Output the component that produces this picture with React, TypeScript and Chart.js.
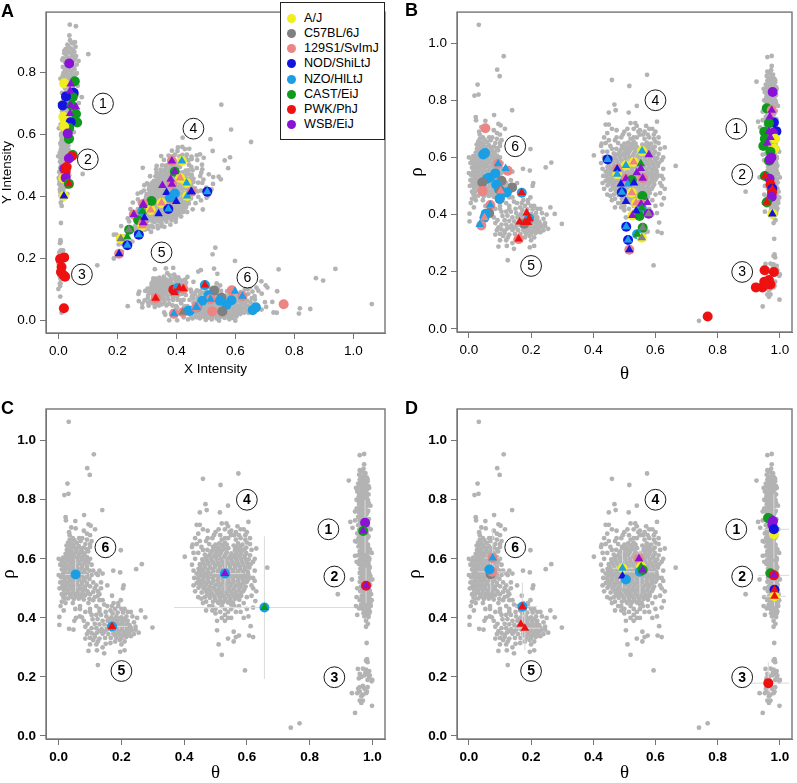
import Chart from "chart.js/auto";
import { useEffect, useRef } from "react";

// Strains, as in the legend of panel A.
const strainNames = ["A/J", "C57BL/6J", "129S1/SvImJ", "NOD/ShiLtJ", "NZO/HlLtJ", "CAST/EiJ", "PWK/PhJ", "WSB/EiJ"];
const strainColors = ["#f0ee1e", "#808080", "#ee8585", "#1414e0", "#1a9fe6", "#0f9a1e", "#ee1111", "#8a12d6"];
const [AJ, B6, S129, NOD, NZO, CAST, PWK, WSB] = [0, 1, 2, 3, 4, 5, 6, 7];
const NONE = -1;

const cloudOne = [
  0.96,0.951, 0.974,0.955, 0.974,0.92, 0.972,0.905, 0.965,0.895, 0.978,0.89, 0.958,0.885, 0.968,0.878, 0.982,0.876,
  0.96,0.868, 0.972,0.866, 0.985,0.862, 0.955,0.855, 0.966,0.853, 0.978,0.85, 0.988,0.846, 0.96,0.84, 0.972,0.838,
  0.983,0.834, 0.952,0.828, 0.965,0.824, 0.977,0.822, 0.988,0.818, 0.957,0.812, 0.97,0.81, 0.982,0.806, 0.953,0.798,
  0.965,0.796, 0.977,0.794, 0.988,0.79, 0.958,0.784, 0.97,0.78, 0.982,0.778, 0.952,0.77, 0.965,0.768, 0.977,0.766,
  0.987,0.762, 0.958,0.756, 0.97,0.752, 0.981,0.75, 0.955,0.742, 0.966,0.74, 0.978,0.736, 0.989,0.734, 0.96,0.728,
  0.972,0.724, 0.984,0.722, 0.955,0.714, 0.966,0.71, 0.978,0.708, 0.988,0.704, 0.958,0.698, 0.97,0.696, 0.982,0.692,
  0.952,0.686, 0.964,0.682, 0.976,0.68, 0.988,0.676, 0.956,0.67, 0.968,0.666, 0.98,0.664, 0.95,0.658, 0.962,0.654,
  0.974,0.65, 0.986,0.648, 0.956,0.642, 0.968,0.638, 0.98,0.636, 0.992,0.632, 0.96,0.626, 0.972,0.622, 0.984,0.62,
  0.955,0.612, 0.966,0.608, 0.978,0.606, 0.99,0.602, 0.96,0.596, 0.972,0.592, 0.984,0.59, 0.958,0.582, 0.97,0.578,
  0.982,0.576, 0.992,0.572, 0.962,0.566, 0.974,0.562, 0.986,0.56, 0.96,0.552, 0.972,0.548, 0.984,0.546, 0.994,0.542,
  0.962,0.536, 0.974,0.532, 0.986,0.53, 0.96,0.522, 0.972,0.518, 0.984,0.516, 0.993,0.512, 0.964,0.506, 0.976,0.502,
  0.988,0.5, 0.962,0.49, 0.974,0.486, 0.986,0.484, 0.996,0.48, 0.966,0.474, 0.978,0.47, 0.99,0.468, 0.96,0.46,
  0.972,0.456, 0.984,0.454, 0.994,0.45, 0.964,0.444, 0.976,0.44, 0.988,0.438, 0.958,0.432, 0.97,0.43, 0.982,0.426,
  0.992,0.422, 0.972,0.416, 0.984,0.412, 0.975,0.405, 0.988,0.403, 0.98,0.39, 0.986,0.38, 0.98,0.37,
];
const cloudOneFill = [
  0.968,0.897, 0.975,0.884, 0.963,0.873, 0.978,0.871, 0.966,0.86, 0.98,0.858, 0.958,0.847, 0.972,0.845, 0.983,0.842,
  0.966,0.832, 0.979,0.83, 0.959,0.819, 0.971,0.817, 0.983,0.814, 0.964,0.804, 0.976,0.802, 0.986,0.799, 0.96,0.791,
  0.971,0.788, 0.983,0.785, 0.964,0.776, 0.976,0.773, 0.958,0.763, 0.971,0.76, 0.984,0.757, 0.964,0.748, 0.975,0.745,
  0.96,0.735, 0.972,0.732, 0.985,0.73, 0.961,0.72, 0.972,0.717, 0.984,0.714, 0.964,0.705, 0.975,0.702, 0.958,0.69,
  0.97,0.688, 0.983,0.685, 0.96,0.676, 0.972,0.673, 0.984,0.67, 0.956,0.662, 0.968,0.659, 0.98,0.656, 0.962,0.647,
  0.974,0.644, 0.986,0.641, 0.966,0.631, 0.978,0.629, 0.988,0.625, 0.961,0.617, 0.972,0.615, 0.984,0.612, 0.966,0.602,
  0.978,0.599, 0.99,0.596, 0.964,0.588, 0.976,0.585, 0.988,0.583, 0.966,0.572, 0.978,0.569, 0.99,0.566, 0.966,0.558,
  0.978,0.555, 0.99,0.552, 0.968,0.542, 0.98,0.539, 0.966,0.528, 0.978,0.525, 0.99,0.522, 0.97,0.512, 0.982,0.509,
  0.968,0.498, 0.98,0.494, 0.992,0.492, 0.972,0.48, 0.984,0.477, 0.966,0.466, 0.978,0.463, 0.99,0.46, 0.97,0.45,
  0.982,0.447, 0.964,0.436, 0.976,0.434, 0.988,0.43, 0.978,0.422, 0.99,0.415,
];
const cloudOneEdge = [
  0.95,0.8, 0.948,0.84, 0.99,0.84, 0.994,0.78, 0.995,0.7, 0.998,0.62, 0.945,0.66, 0.945,0.61, 0.95,0.59, 1.0,0.53,
  0.952,0.5, 0.95,0.47, 0.948,0.44, 0.952,0.41, 0.998,0.46, 0.995,0.44, 0.985,0.87, 0.96,0.9,
];
const cloudThree = [
  0.954,0.227, 0.97,0.228, 0.98,0.225, 0.99,0.22, 0.99,0.2, 1.0,0.19, 0.998,0.185, 0.985,0.19, 0.985,0.21, 0.975,0.205,
  0.96,0.21, 0.957,0.195, 0.965,0.2, 0.98,0.255, 0.983,0.26, 0.985,0.25, 0.982,0.315, 0.935,0.145, 0.952,0.145,
  0.96,0.165, 0.97,0.17, 0.975,0.16, 0.96,0.15, 0.98,0.145, 0.965,0.135, 0.97,0.12, 0.96,0.12, 0.965,0.112, 0.983,0.15,
  0.999,0.102, 0.945,0.078, 0.97,0.14, 0.955,0.16, 0.985,0.165, 0.992,0.205, 0.978,0.215,
];
const cloudFour = [
  0.53,0.655, 0.512,0.652, 0.5,0.648, 0.492,0.64, 0.508,0.638, 0.525,0.641, 0.541,0.636, 0.558,0.645, 0.572,0.652,
  0.586,0.648, 0.598,0.638, 0.578,0.636, 0.562,0.63, 0.474,0.63, 0.488,0.626, 0.504,0.624, 0.52,0.627, 0.536,0.622,
  0.551,0.618, 0.567,0.621, 0.583,0.624, 0.598,0.62, 0.61,0.612, 0.466,0.614, 0.48,0.611, 0.496,0.609, 0.512,0.612,
  0.528,0.607, 0.544,0.604, 0.56,0.606, 0.576,0.608, 0.592,0.605, 0.606,0.598, 0.458,0.598, 0.472,0.596, 0.488,0.594,
  0.504,0.597, 0.52,0.592, 0.536,0.59, 0.552,0.592, 0.568,0.593, 0.584,0.59, 0.6,0.588, 0.612,0.582, 0.45,0.582,
  0.465,0.58, 0.481,0.578, 0.497,0.581, 0.513,0.576, 0.529,0.575, 0.545,0.577, 0.561,0.578, 0.577,0.574, 0.593,0.572,
  0.608,0.57, 0.446,0.566, 0.459,0.563, 0.475,0.562, 0.491,0.565, 0.507,0.56, 0.523,0.56, 0.539,0.562, 0.555,0.562,
  0.571,0.558, 0.587,0.557, 0.603,0.555, 0.44,0.55, 0.455,0.547, 0.469,0.546, 0.485,0.549, 0.501,0.544, 0.517,0.545,
  0.533,0.546, 0.549,0.546, 0.565,0.542, 0.581,0.542, 0.597,0.54, 0.61,0.536, 0.443,0.534, 0.459,0.531, 0.475,0.53,
  0.491,0.533, 0.507,0.528, 0.523,0.53, 0.539,0.53, 0.555,0.53, 0.571,0.526, 0.587,0.527, 0.6,0.522, 0.44,0.518,
  0.454,0.515, 0.47,0.514, 0.486,0.517, 0.502,0.512, 0.518,0.514, 0.534,0.514, 0.55,0.514, 0.566,0.51, 0.582,0.511,
  0.596,0.506, 0.446,0.502, 0.462,0.5, 0.478,0.498, 0.494,0.501, 0.51,0.497, 0.526,0.498, 0.542,0.498, 0.558,0.498,
  0.574,0.495, 0.588,0.49, 0.456,0.486, 0.472,0.484, 0.488,0.483, 0.504,0.485, 0.52,0.482, 0.536,0.482, 0.552,0.482,
  0.568,0.479, 0.582,0.475, 0.466,0.47, 0.482,0.468, 0.498,0.467, 0.514,0.469, 0.53,0.466, 0.546,0.466, 0.562,0.464,
  0.576,0.461, 0.492,0.455, 0.508,0.453, 0.524,0.452, 0.54,0.452, 0.556,0.45, 0.49,0.44, 0.52,0.44, 0.51,0.45,
  0.53,0.43, 0.55,0.43, 0.5,0.43, 0.54,0.42, 0.56,0.44, 0.575,0.44, 0.53,0.41, 0.52,0.4, 0.505,0.39, 0.47,0.425,
  0.54,0.71, 0.535,0.72, 0.53,0.7, 0.545,0.69, 0.57,0.71, 0.58,0.7, 0.595,0.68, 0.6,0.655, 0.61,0.65, 0.595,0.665,
  0.56,0.68, 0.55,0.68, 0.515,0.68, 0.53,0.67, 0.5,0.69, 0.495,0.68, 0.475,0.695, 0.46,0.7, 0.48,0.65, 0.47,0.66,
  0.455,0.64, 0.46,0.63, 0.54,0.67, 0.565,0.665, 0.58,0.67, 0.52,0.665,
];
const cloudFourFill = [
  0.52,0.647, 0.536,0.648, 0.566,0.64, 0.58,0.642, 0.592,0.632, 0.5,0.632, 0.514,0.632, 0.53,0.633, 0.572,0.63, 0.484,0.618,
  0.5,0.616, 0.516,0.619, 0.532,0.615, 0.548,0.611, 0.564,0.614, 0.58,0.616, 0.594,0.612, 0.47,0.605, 0.486,0.602, 0.502,0.604,
  0.518,0.6, 0.534,0.598, 0.55,0.599, 0.566,0.6, 0.582,0.598, 0.598,0.596, 0.46,0.589, 0.476,0.587, 0.492,0.588, 0.508,0.585,
  0.524,0.583, 0.54,0.584, 0.556,0.585, 0.572,0.583, 0.588,0.581, 0.604,0.579, 0.452,0.573, 0.467,0.571, 0.483,0.57, 0.499,0.573,
  0.515,0.568, 0.531,0.567, 0.547,0.569, 0.563,0.57, 0.579,0.566, 0.595,0.564, 0.448,0.558, 0.462,0.555, 0.477,0.554, 0.493,0.557,
  0.509,0.552, 0.525,0.553, 0.541,0.554, 0.557,0.554, 0.573,0.55, 0.589,0.549, 0.604,0.547, 0.449,0.542, 0.463,0.539, 0.478,0.538,
  0.494,0.541, 0.51,0.536, 0.526,0.538, 0.542,0.538, 0.558,0.538, 0.574,0.534, 0.59,0.534, 0.604,0.53, 0.447,0.526, 0.462,0.523,
  0.478,0.522, 0.494,0.525, 0.51,0.52, 0.526,0.522, 0.542,0.522, 0.558,0.522, 0.574,0.518, 0.59,0.519, 0.451,0.51, 0.466,0.507,
  0.482,0.506, 0.498,0.509, 0.514,0.505, 0.53,0.506, 0.546,0.506, 0.562,0.505, 0.578,0.503, 0.592,0.498, 0.47,0.492, 0.484,0.491,
  0.5,0.493, 0.516,0.49, 0.532,0.49, 0.548,0.49, 0.564,0.488, 0.58,0.484, 0.478,0.476, 0.494,0.475, 0.51,0.477, 0.526,0.474,
  0.542,0.474, 0.558,0.472, 0.572,0.47, 0.5,0.461, 0.516,0.46, 0.532,0.459, 0.548,0.459,
];
const cloudFourEdge = [
  0.425,0.64, 0.43,0.62, 0.435,0.6, 0.43,0.56, 0.432,0.535, 0.43,0.51, 0.435,0.49, 0.445,0.47, 0.455,0.465, 0.46,0.45,
  0.47,0.455, 0.48,0.44, 0.49,0.425, 0.5,0.415, 0.515,0.42, 0.53,0.39, 0.54,0.4, 0.55,0.445, 0.565,0.42, 0.58,0.42,
  0.59,0.45, 0.6,0.47, 0.615,0.475, 0.62,0.5, 0.615,0.51, 0.625,0.56, 0.62,0.59, 0.625,0.6, 0.615,0.63, 0.61,0.67,
  0.6,0.69, 0.59,0.7, 0.565,0.69, 0.575,0.68, 0.55,0.695, 0.52,0.72, 0.51,0.7, 0.49,0.67, 0.475,0.67, 0.45,0.66,
  0.435,0.67, 0.445,0.685, 0.45,0.715,
];
const cloudSix = [
  0.05,0.662, 0.04,0.652, 0.058,0.654, 0.032,0.642, 0.048,0.64, 0.064,0.643, 0.08,0.638, 0.026,0.63, 0.04,0.628,
  0.056,0.63, 0.072,0.627, 0.09,0.632, 0.022,0.617, 0.035,0.615, 0.05,0.617, 0.066,0.614, 0.082,0.618, 0.014,0.604,
  0.028,0.603, 0.043,0.605, 0.058,0.602, 0.074,0.604, 0.09,0.606, 0.01,0.592, 0.022,0.59, 0.036,0.592, 0.05,0.589,
  0.066,0.591, 0.082,0.593, 0.094,0.588, 0.014,0.578, 0.028,0.576, 0.043,0.579, 0.058,0.576, 0.074,0.578, 0.09,0.574,
  0.01,0.564, 0.022,0.562, 0.036,0.565, 0.05,0.563, 0.066,0.564, 0.082,0.562, 0.098,0.56, 0.014,0.55, 0.028,0.548,
  0.043,0.551, 0.058,0.549, 0.074,0.55, 0.09,0.547, 0.008,0.537, 0.022,0.534, 0.036,0.537, 0.05,0.535, 0.066,0.536,
  0.082,0.534, 0.098,0.532, 0.014,0.522, 0.028,0.52, 0.043,0.523, 0.058,0.521, 0.074,0.522, 0.09,0.518, 0.012,0.508,
  0.022,0.506, 0.036,0.509, 0.05,0.507, 0.066,0.508, 0.082,0.504, 0.1,0.507, 0.016,0.494, 0.03,0.492, 0.045,0.495,
  0.06,0.493, 0.076,0.492, 0.092,0.49, 0.11,0.488, 0.02,0.48, 0.036,0.478, 0.052,0.48, 0.068,0.478, 0.084,0.476,
  0.1,0.48, 0.03,0.466, 0.048,0.464, 0.064,0.465, 0.08,0.462, 0.098,0.464, 0.115,0.47, 0.125,0.475,
];
const cloudSixFill = [
  0.046,0.646, 0.04,0.634, 0.055,0.636, 0.07,0.635, 0.03,0.622, 0.044,0.621, 0.06,0.622, 0.076,0.622, 0.024,0.609, 0.036,0.609,
  0.05,0.61, 0.066,0.608, 0.082,0.611, 0.018,0.597, 0.03,0.596, 0.044,0.598, 0.058,0.595, 0.074,0.597, 0.088,0.599, 0.02,0.584,
  0.036,0.584, 0.05,0.583, 0.066,0.584, 0.082,0.585, 0.018,0.57, 0.03,0.57, 0.044,0.571, 0.058,0.57, 0.074,0.57, 0.09,0.568,
  0.02,0.556, 0.036,0.556, 0.05,0.556, 0.066,0.557, 0.082,0.555, 0.015,0.543, 0.03,0.541, 0.044,0.543, 0.058,0.542, 0.074,0.543,
  0.09,0.54, 0.02,0.528, 0.036,0.529, 0.05,0.528, 0.066,0.529, 0.082,0.527, 0.018,0.514, 0.03,0.513, 0.044,0.515, 0.058,0.514,
  0.074,0.515, 0.09,0.512, 0.024,0.5, 0.038,0.501, 0.052,0.5, 0.068,0.5, 0.084,0.498, 0.028,0.486, 0.044,0.487, 0.06,0.486,
  0.076,0.485, 0.092,0.483, 0.04,0.472, 0.056,0.472, 0.072,0.471,
];
const cloudSixEdge = [
  0.0,0.6, 0.005,0.58, 0.0,0.545, 0.005,0.52, 0.003,0.5, 0.01,0.48, 0.015,0.47, 0.02,0.465, 0.1,0.6, 0.105,0.58,
  0.105,0.545, 0.11,0.52, 0.115,0.5, 0.125,0.49, 0.13,0.48, 0.1,0.65, 0.085,0.65, 0.07,0.66, 0.065,0.67, 0.045,0.67,
  0.035,0.665, 0.03,0.655, 0.025,0.645, 0.035,0.68, 0.075,0.67, 0.09,0.665, 0.08,0.695, 0.11,0.56, 0.12,0.55, 0.135,0.52,
];
const cloudFive = [
  0.17,0.44, 0.19,0.44, 0.18,0.43, 0.165,0.425, 0.2,0.43, 0.15,0.42, 0.172,0.415, 0.188,0.418, 0.205,0.418, 0.22,0.42,
  0.12,0.41, 0.135,0.41, 0.152,0.405, 0.168,0.402, 0.184,0.405, 0.2,0.402, 0.216,0.405, 0.235,0.405, 0.108,0.395,
  0.124,0.396, 0.14,0.39, 0.156,0.39, 0.172,0.388, 0.188,0.39, 0.204,0.388, 0.22,0.39, 0.24,0.385, 0.115,0.38,
  0.13,0.378, 0.146,0.376, 0.162,0.374, 0.178,0.375, 0.194,0.376, 0.21,0.374, 0.226,0.375, 0.105,0.365, 0.12,0.365,
  0.137,0.362, 0.153,0.36, 0.169,0.36, 0.185,0.362, 0.201,0.36, 0.217,0.36, 0.233,0.358, 0.09,0.345, 0.105,0.348,
  0.122,0.35, 0.14,0.346, 0.158,0.345, 0.174,0.347, 0.19,0.348, 0.206,0.345, 0.222,0.346, 0.24,0.345, 0.1,0.332,
  0.115,0.335, 0.13,0.33, 0.148,0.332, 0.166,0.332, 0.184,0.333, 0.2,0.332, 0.215,0.335, 0.23,0.338, 0.11,0.325,
  0.125,0.32, 0.15,0.312, 0.165,0.315, 0.18,0.32, 0.195,0.325,
  0.16,0.395, 0.178,0.396, 0.194,0.397, 0.21,0.396, 0.17,0.382, 0.186,0.383, 0.202,0.382, 0.218,0.382, 0.154,0.368, 0.17,0.367,
  0.186,0.369, 0.202,0.368, 0.218,0.368, 0.23,0.366, 0.178,0.354, 0.194,0.355, 0.21,0.353, 0.226,0.353, 0.18,0.34, 0.196,0.34,
  0.212,0.34, 0.226,0.34, 0.13,0.355, 0.145,0.353, 0.115,0.342,
  0.085,0.37, 0.095,0.355, 0.085,0.33, 0.1,0.31, 0.12,0.31, 0.14,0.3, 0.2,0.31, 0.21,0.32, 0.245,0.36, 0.255,0.35,
  0.245,0.37, 0.25,0.4, 0.23,0.42, 0.21,0.43, 0.19,0.45, 0.175,0.45, 0.155,0.44, 0.13,0.42, 0.105,0.41, 0.1,0.43, 0.085,0.42,
];
const cloudOutliers = [
  0.032,1.064, 0.112,0.954, 0.091,0.907, 0.099,0.884, 0.028,0.855, 0.018,0.816, 0.031,0.82, 0.139,0.765, 0.081,0.748,
  0.022,0.741, 0.023,0.73, 0.053,0.728, 0.04,0.706, 0.054,0.703, 0.095,0.717, 0.102,0.712, 0.116,0.7, 0.033,0.69,
  0.09,0.685, 0.1,0.68, 0.198,0.629, 0.105,0.66, 0.1,0.64, 0.094,0.625, 0.13,0.56, 0.14,0.55, 0.125,0.545, 0.155,0.51,
  0.174,0.56, 0.196,0.554, 0.247,0.565, 0.265,0.582, 0.299,0.367, 0.276,0.402, 0.262,0.425, 0.207,0.51, 0.205,0.5,
  0.17,0.475, 0.198,0.46, 0.002,0.403, 0.002,0.376, 0.006,0.44, 0.01,0.455, 0.016,0.425, 0.022,0.45, 0.033,0.363,
  0.047,0.36, 0.05,0.39, 0.055,0.4, 0.067,0.405, 0.074,0.402, 0.08,0.39, 0.092,0.38, 0.068,0.44, 0.068,0.43, 0.053,0.43,
  0.045,0.45, 0.12,0.44, 0.13,0.43, 0.1,0.42, 0.095,0.288, 0.122,0.29, 0.145,0.28, 0.125,0.24, 0.196,0.285, 0.21,0.29,
  0.135,0.5, 0.12,0.51, 0.14,0.46, 0.11,0.46, 0.095,0.45, 0.13,0.46, 0.145,0.445, 0.46,0.871, 0.516,0.85, 0.573,0.889,
  0.468,0.785, 0.472,0.765, 0.45,0.757, 0.514,0.757, 0.54,0.78, 0.44,0.715, 0.402,0.607, 0.427,0.648, 0.44,0.65,
  0.445,0.62, 0.425,0.58, 0.665,0.57, 0.63,0.49, 0.627,0.457, 0.62,0.535, 0.625,0.525, 0.63,0.635, 0.605,0.725,
  0.594,0.222, 0.52,0.275, 0.51,0.31, 0.505,0.358, 0.54,0.33, 0.558,0.32, 0.558,0.353, 0.575,0.34, 0.607,0.34, 0.62,0.335,
  0.612,0.372, 0.565,0.335, 0.55,0.4, 0.59,0.4, 0.605,0.405, 0.6,0.43, 0.62,0.435, 0.925,0.865, 0.93,0.725, 0.945,0.73,
  0.945,0.76, 0.95,0.77, 0.937,0.705, 0.935,0.53, 0.89,0.48, 0.74,0.028, 0.768,0.043,
];

// Genotype marks: x, y, circle strain, triangle strain (NONE = that shape is absent).
const marksA = [
  [0.037,0.829,WSB,NONE], [0.056,0.772,CAST,NONE], [0.02,0.765,AJ,NONE], [0.042,0.763,NONE,WSB], [0.04,0.74,NONE,WSB],
  [0.052,0.735,NOD,NONE], [0.049,0.72,CAST,NONE], [0.026,0.723,NOD,NONE], [0.015,0.694,NOD,NONE], [0.045,0.694,CAST,NONE],
  [0.042,0.694,NONE,WSB], [0.06,0.689,NONE,WSB], [0.06,0.666,CAST,NONE], [0.04,0.668,NONE,WSB], [0.017,0.657,AJ,NONE],
  [0.022,0.646,AJ,NONE], [0.064,0.639,CAST,NONE], [0.042,0.64,NOD,NONE], [0.037,0.621,CAST,NONE], [0.02,0.626,AJ,NONE],
  [0.036,0.586,CAST,NONE], [0.032,0.603,WSB,NONE],
  [0.049,0.534,CAST,NONE], [0.046,0.53,PWK,NONE], [0.036,0.523,WSB,NONE], [0.02,0.49,WSB,NONE], [0.028,0.495,PWK,NONE],
  [0.025,0.48,PWK,NONE], [0.017,0.459,AJ,NONE], [0.025,0.461,WSB,NONE], [0.036,0.441,CAST,PWK], [0.019,0.402,AJ,NOD],
  [0.02,0.204,PWK,NONE], [0.006,0.199,PWK,NONE], [0.011,0.173,PWK,NONE], [0.009,0.157,PWK,NONE], [0.017,0.147,PWK,NONE],
  [0.023,0.142,PWK,NONE], [0.019,0.04,PWK,NONE],
  [0.206,0.216,S129,NOD], [0.212,0.264,AJ,B6], [0.234,0.243,NOD,NZO], [0.234,0.27,NONE,CAST], [0.24,0.293,CAST,B6],
  [0.273,0.277,NOD,NZO], [0.256,0.342,S129,WSB], [0.271,0.324,CAST,NONE], [0.285,0.306,AJ,S129], [0.288,0.316,S129,WSB],
  [0.288,0.371,NONE,WSB], [0.285,0.353,NZO,CAST], [0.292,0.332,NONE,NOD], [0.313,0.357,AJ,S129], [0.316,0.386,CAST,NONE],
  [0.288,0.376,S129,WSB], [0.35,0.379,AJ,S129], [0.34,0.345,NONE,NOD], [0.373,0.36,NOD,NZO], [0.381,0.392,S129,NZO],
  [0.4,0.384,NONE,NOD], [0.437,0.402,AJ,NZO], [0.385,0.515,S129,WSB], [0.419,0.515,AJ,NZO], [0.395,0.48,CAST,WSB],
  [0.381,0.456,NONE,WSB], [0.385,0.44,S129,WSB], [0.413,0.46,AJ,S129], [0.435,0.444,AJ,NZO], [0.353,0.436,NONE,WSB],
  [0.367,0.413,NONE,NOD], [0.395,0.41,NZO,NONE], [0.379,0.397,NZO,NZO], [0.45,0.416,NONE,NOD], [0.452,0.416,S129,NOD],
  [0.505,0.416,NOD,NZO],
  [0.33,0.072,S129,PWK], [0.39,0.1,PWK,NONE], [0.405,0.105,NZO,NONE], [0.395,0.09,NONE,PWK], [0.41,0.105,NONE,PWK],
  [0.424,0.103,S129,PWK],
  [0.392,0.022,S129,NZO], [0.422,0.027,S129,B6], [0.441,0.032,NZO,NONE], [0.469,0.043,NZO,NZO], [0.446,0.032,NZO,NONE],
  [0.497,0.115,NZO,PWK], [0.528,0.097,B6,NONE], [0.588,0.098,S129,NONE], [0.599,0.095,NONE,NZO], [0.624,0.079,S129,NZO],
  [0.553,0.074,B6,NONE], [0.509,0.082,NZO,NONE], [0.516,0.069,S129,NZO], [0.488,0.064,NZO,NONE], [0.548,0.064,NZO,NONE],
  [0.57,0.051,NZO,NONE], [0.587,0.066,NZO,NONE], [0.522,0.03,S129,NONE], [0.556,0.03,B6,NONE], [0.467,0.043,S129,NZO],
  [0.764,0.053,S129,NONE], [0.67,0.043,NZO,NONE], [0.659,0.034,NZO,NONE],
];
const marksB = [
  [0.053,0.702,S129,NONE], [0.046,0.61,NZO,NONE], [0.052,0.615,NZO,NONE], [0.094,0.578,S129,NZO], [0.125,0.553,S129,NONE],
  [0.118,0.561,NONE,NZO], [0.085,0.544,NZO,NONE], [0.067,0.53,NZO,NONE], [0.058,0.525,NZO,NONE], [0.105,0.518,B6,NONE],
  [0.043,0.512,B6,NONE], [0.139,0.495,B6,NONE], [0.088,0.505,NZO,NONE], [0.097,0.488,NZO,NONE], [0.044,0.482,S129,NONE],
  [0.102,0.482,B6,S129], [0.122,0.477,NZO,NONE], [0.17,0.476,NZO,PWK], [0.099,0.454,B6,NONE], [0.099,0.456,NZO,NZO], [0.069,0.433,S129,NZO],
  [0.065,0.405,B6,NONE], [0.054,0.403,NZO,NONE], [0.05,0.389,NZO,S129], [0.04,0.362,S129,NONE], [0.035,0.365,NONE,NZO],
  [0.194,0.386,NZO,PWK], [0.178,0.368,B6,NONE], [0.186,0.405,NONE,PWK], [0.163,0.374,NONE,PWK], [0.18,0.372,NONE,PWK],
  [0.19,0.372,NONE,PWK], [0.16,0.314,S129,PWK],
  [0.446,0.593,NOD,NZO], [0.557,0.622,AJ,NZO], [0.579,0.609,NONE,WSB], [0.505,0.572,AJ,NZO], [0.53,0.584,AJ,S129],
  [0.477,0.559,S129,NOD], [0.553,0.578,NONE,CAST], [0.553,0.561,NONE,WSB], [0.54,0.546,NONE,WSB], [0.477,0.541,AJ,NZO],
  [0.559,0.527,S129,WSB], [0.505,0.525,S129,WSB], [0.524,0.521,CAST,NONE], [0.489,0.507,NONE,NOD], [0.511,0.507,NONE,NZO],
  [0.531,0.51,NONE,NOD], [0.492,0.478,NOD,NZO], [0.524,0.476,AJ,S129], [0.505,0.446,NONE,NOD], [0.558,0.465,CAST,CAST],
  [0.538,0.44,AJ,S129], [0.554,0.437,S129,WSB], [0.574,0.442,NONE,WSB], [0.556,0.423,NZO,CAST], [0.538,0.412,NONE,NOD],
  [0.526,0.397,AJ,WSB], [0.549,0.395,CAST,NONE], [0.578,0.403,WSB,B6], [0.506,0.357,NOD,NZO], [0.559,0.354,CAST,B6],
  [0.541,0.331,NZO,CAST], [0.556,0.319,AJ,B6], [0.512,0.311,NOD,NZO], [0.516,0.277,S129,NOD],
  [0.977,0.829,WSB,NONE], [0.958,0.772,CAST,NONE], [0.974,0.765,S129,WSB], [0.968,0.742,NONE,WSB], [0.981,0.722,NOD,NONE],
  [0.965,0.72,CAST,NONE], [0.989,0.691,NOD,NONE], [0.95,0.69,CAST,NONE], [0.965,0.691,NONE,WSB], [0.978,0.685,WSB,NONE], [0.985,0.665,AJ,NONE],
  [0.952,0.665,CAST,NONE], [0.97,0.67,NONE,WSB], [0.947,0.64,CAST,NONE], [0.96,0.65,NONE,WSB], [0.982,0.63,AJ,NONE],
  [0.97,0.62,CAST,NONE], [0.965,0.588,CAST,NONE], [0.973,0.6,WSB,NONE], [0.968,0.592,WSB,NONE], [0.952,0.535,CAST,PWK],
  [0.967,0.525,WSB,NONE], [0.97,0.505,PWK,NONE], [0.976,0.49,NOD,PWK], [0.975,0.478,PWK,NONE], [0.974,0.462,WSB,WSB],
  [0.958,0.443,CAST,PWK], [0.976,0.402,AJ,NOD],
  [0.951,0.205,PWK,NONE], [0.981,0.199,PWK,NONE], [0.965,0.171,PWK,NONE], [0.95,0.165,PWK,NONE], [0.944,0.145,PWK,NONE],
  [0.923,0.145,PWK,NONE], [0.97,0.155,PWK,NONE], [0.957,0.156,PWK,NONE], [0.768,0.043,PWK,NONE],
];
const marksC = [
  [0.054,0.547,NZO,NONE], [0.17,0.371,NZO,PWK], [0.53,0.55,NZO,WSB], [0.656,0.435,NZO,CAST],
  [0.977,0.722,WSB,NONE], [0.971,0.694,CAST,WSB], [0.98,0.509,PWK,WSB],
];
const marksD = [
  [0.0765,0.603,S129,NZO], [0.07,0.548,B6,NONE], [0.075,0.556,S129,NONE], [0.066,0.564,NZO,NONE], [0.172,0.438,NZO,PWK],
  [0.167,0.378,NONE,PWK], [0.18,0.365,NONE,PWK], [0.494,0.568,AJ,NZO], [0.547,0.6,S129,WSB], [0.554,0.573,AJ,CAST],
  [0.55,0.556,NZO,NONE], [0.559,0.562,CAST,WSB], [0.494,0.542,NONE,NOD], [0.505,0.53,NZO,NZO], [0.962,0.738,CAST,NONE],
  [0.968,0.736,CAST,NONE], [0.978,0.728,WSB,NONE], [0.976,0.715,WSB,NONE], [0.981,0.683,AJ,NONE], [0.981,0.7,NOD,NOD],
  [0.97,0.551,CAST,NONE], [0.981,0.544,PWK,WSB], [0.983,0.495,NOD,PWK], [0.983,0.473,AJ,PWK], [0.963,0.179,PWK,NONE],
];

// Error crosses: theta, rho, theta low, theta high, rho low, rho high.
const crossesC = [
  [0.054,0.547,0.02,0.09,0.49,0.6], [0.17,0.371,0.13,0.22,0.35,0.39], [0.53,0.55,0.49,0.59,0.49,0.6],
  [0.656,0.435,0.368,0.942,0.193,0.676], [0.977,0.722,0.965,0.99,0.62,0.8], [0.98,0.509,0.965,0.995,0.45,0.57],
];
const crossesD = [
  [0.0765,0.603,0.05,0.1,0.53,0.7], [0.07,0.556,0.03,0.12,0.49,0.6], [0.172,0.438,0.15,0.22,0.31,0.52],
  [0.18,0.365,0.14,0.23,0.29,0.43], [0.494,0.568,0.46,0.53,0.5,0.63], [0.55,0.556,0.5,0.6,0.48,0.63],
  [0.981,0.7,0.94,1.03,0.6,0.82], [0.981,0.544,0.93,1.03,0.5,0.59], [0.963,0.179,0.9,1.03,0.15,0.25],
  [0.983,0.473,0.95,1.02,0.44,0.52],
];

// Cluster numbers in the circles.
const clusterNames = ["1", "2", "3", "4", "5", "6"];
const clusterSpotsXY = [[0.1515,0.7], [0.1,0.52], [0.08,0.149], [0.458,0.619], [0.35,0.22], [0.641,0.139]];
const clusterSpotsPolar = [[0.86,0.7], [0.879,0.54], [0.879,0.199], [0.6,0.8], [0.2,0.22], [0.149,0.639]];

const xTicks = [0, 0.2, 0.4, 0.6, 0.8, 1];
const yTicksA = [0, 0.2, 0.4, 0.6, 0.8];
const yTicksPolar = [0, 0.2, 0.4, 0.6, 0.8, 1];

const sansFont = '"Liberation Sans", Arial, sans-serif';
const serifFont = '"Liberation Serif", serif';
const axisGray = "#757575";
const cloudGray = "#b3b3b3";

const cloud = [
  ...cloudOne, ...cloudOneFill, ...cloudOneEdge, ...cloudThree, ...cloudFour, ...cloudFourFill, ...cloudFourEdge,
  ...cloudSix, ...cloudSixFill, ...cloudSixEdge, ...cloudFive, ...cloudOutliers,
];

function pairsToPoints(pairs: number[]) {
  const points = [];
  for (let i = 0; i < pairs.length; i += 2) {
    points.push({ x: pairs[i], y: pairs[i + 1] });
  }
  return points;
}

// Panel A shows the same SNPs before the polar change of axes: theta = atan(Y/X) * 2/pi, rho = sqrt(X^2 + Y^2).
function polarToIntensity(p: { x: number; y: number }) {
  const angle = (p.x * Math.PI) / 2;
  return { x: p.y * Math.cos(angle), y: p.y * Math.sin(angle) };
}

interface PanelProps {
  left: number;
  top: number;
  width: number;
  height: number;
  area: { left: number; right: number; top: number; bottom: number };
  xRange: [number, number];
  yRange: [number, number];
  yTicks: number[];
  marks: number[][];
  crosses?: number[][];
  spots: number[][];
  bold?: boolean;
  intensity?: boolean;
  xTitle: string;
  yTitle: string;
  titleFont: string;
  titleSize: number;
  xTitlePad: number;
  yTitlePad: number;
}

function Panel(props: PanelProps) {
  const canvasRef = useRef<HTMLCanvasElement | null>(null);

  useEffect(() => {
    if (!canvasRef.current) {
      return undefined;
    }
    const { area, bold, intensity, marks, spots } = props;
    const tickFont = { family: sansFont, size: 13.5, weight: bold ? "bold" : "normal" };
    const titleFont = { family: props.titleFont, size: props.titleSize, lineHeight: 1 };

    const crossPoints: { x: number; y: number }[] = [];
    (props.crosses ?? []).forEach(([x, y, x0, x1, y0, y1]) => {
      crossPoints.push({ x: x0, y }, { x: x1, y }, { x: NaN, y: NaN }, { x, y: y0 }, { x, y: y1 }, { x: NaN, y: NaN });
    });
    const circleMarks = marks.filter((m) => m[2] !== NONE);
    const triangleMarks = marks.filter((m) => m[3] !== NONE);

    const plotBox = {
      id: "plotBox",
      afterDatasetsDraw(chart: Chart) {
        const { ctx, chartArea } = chart;
        ctx.save();
        ctx.strokeStyle = axisGray;
        ctx.lineWidth = 1.4;
        ctx.strokeRect(chartArea.left, chartArea.top, chartArea.right - chartArea.left, chartArea.bottom - chartArea.top);
        ctx.restore();
      },
    };
    const clusterCircles = {
      id: "clusterCircles",
      afterDatasetsDraw(chart: Chart) {
        const { ctx, scales } = chart;
        ctx.save();
        spots.forEach(([x, y], i) => {
          const px = scales.x.getPixelForValue(x);
          const py = scales.y.getPixelForValue(y);
          ctx.beginPath();
          ctx.arc(px, py, 10.4, 0, Math.PI * 2);
          ctx.fillStyle = "#ffffff";
          ctx.fill();
          ctx.strokeStyle = "#000000";
          ctx.lineWidth = 0.9;
          ctx.stroke();
          ctx.fillStyle = "#000000";
          ctx.font = `${bold ? "bold " : ""}14px ${sansFont}`;
          ctx.textAlign = "center";
          ctx.textBaseline = "middle";
          ctx.fillText(clusterNames[i], px, py + 0.5);
        });
        ctx.restore();
      },
    };

    const chart = new Chart(canvasRef.current, {
      type: "scatter",
      data: {
        datasets: [
          {
            data: intensity ? pairsToPoints(cloud).map(polarToIntensity) : pairsToPoints(cloud),
            pointRadius: 2.4,
            pointBorderWidth: 0,
            pointBackgroundColor: cloudGray,
            order: 4,
          },
          {
            data: crossPoints,
            showLine: true,
            pointRadius: 0,
            borderWidth: 1,
            borderColor: "#dadada",
            spanGaps: false,
            order: 3,
          },
          {
            data: circleMarks.map((m) => ({ x: m[0], y: m[1] })),
            pointRadius: 5,
            pointBorderWidth: 0,
            pointBackgroundColor: circleMarks.map((m) => strainColors[m[2]]),
            order: 2,
          },
          {
            data: triangleMarks.map((m) => ({ x: m[0], y: m[1] })),
            pointStyle: "triangle",
            pointRadius: 5,
            pointBorderWidth: 0,
            pointBackgroundColor: triangleMarks.map((m) => strainColors[m[3]]),
            order: 1,
          },
        ],
      },
      options: {
        animation: false,
        responsive: false,
        events: [],
        layout: {
          padding: { left: 0, top: area.top, right: props.width - area.right, bottom: 0 },
        },
        plugins: { legend: { display: false }, tooltip: { enabled: false } },
        scales: {
          x: {
            type: "linear",
            min: props.xRange[0],
            max: props.xRange[1],
            afterBuildTicks: (scale: any) => {
              scale.ticks = xTicks.map((value) => ({ value }));
            },
            afterFit: (scale: any) => {
              scale.height = props.height - area.bottom;
            },
            ticks: {
              autoSkip: false,
              maxRotation: 0,
              color: "#000000",
              font: tickFont,
              padding: 4,
              callback: (v: any) => Number(v).toFixed(1),
            },
            grid: { drawOnChartArea: false, tickLength: 6, tickColor: axisGray, tickWidth: 1 },
            border: { color: axisGray, width: 1 },
            title: {
              display: true,
              text: props.xTitle,
              color: "#000000",
              font: titleFont,
              padding: { top: 0, bottom: props.xTitlePad },
            },
          },
          y: {
            type: "linear",
            min: props.yRange[0],
            max: props.yRange[1],
            afterBuildTicks: (scale: any) => {
              scale.ticks = props.yTicks.map((value) => ({ value }));
            },
            afterFit: (scale: any) => {
              scale.width = area.left;
            },
            ticks: {
              autoSkip: false,
              color: "#000000",
              font: tickFont,
              padding: 4,
              callback: (v: any) => Number(v).toFixed(1),
            },
            grid: { drawOnChartArea: false, tickLength: 6, tickColor: axisGray, tickWidth: 1 },
            border: { color: axisGray, width: 1 },
            title: {
              display: true,
              text: props.yTitle,
              color: "#000000",
              font: titleFont,
              padding: { top: props.yTitlePad, bottom: 0 },
            },
          },
        },
      },
      plugins: [plotBox, clusterCircles],
    } as any);

    return () => chart.destroy();
  }, []);

  return (
    <canvas
      ref={canvasRef}
      width={props.width}
      height={props.height}
      style={{ position: "absolute", left: props.left, top: props.top, width: props.width, height: props.height }}
    />
  );
}

function PanelLetter({ text, left, top }: { text: string; left: number; top: number }) {
  return (
    <div style={{ position: "absolute", left, top, font: `bold 18px ${sansFont}`, lineHeight: "18px", color: "#000" }}>{text}</div>
  );
}

function StrainLegend() {
  return (
    <div
      style={{
        position: "absolute",
        left: 280,
        top: 2,
        width: 105,
        height: 138,
        boxSizing: "border-box",
        border: "1px solid #222",
        background: "#fff",
      }}
    >
      {strainNames.map((name, i) => (
        <div
          key={name}
          style={{
            position: "absolute",
            left: 23,
            top: 8 + i * 15.15,
            font: `12.6px ${sansFont}`,
            lineHeight: "15px",
            color: "#000",
            whiteSpace: "nowrap",
          }}
        >
          <span
            style={{
              position: "absolute",
              left: -17.5,
              top: 3,
              width: 9,
              height: 9,
              borderRadius: "50%",
              background: strainColors[i],
            }}
          />
          {name}
        </div>
      ))}
    </div>
  );
}

export default function App() {
  return (
    <div style={{ position: "absolute", left: 0, top: 0, width: 797, height: 783, background: "#fff", overflow: "hidden" }}>
      <Panel
        left={0}
        top={0}
        width={397}
        height={390}
        area={{ left: 46, right: 385, top: 2, bottom: 333 }}
        xRange={[-0.0417, 1.1075]}
        yRange={[-0.0397, 0.9947]}
        yTicks={yTicksA}
        marks={marksA}
        spots={clusterSpotsXY}
        intensity
        xTitle="X Intensity"
        yTitle="Y Intensity"
        titleFont={sansFont}
        titleSize={13.5}
        xTitlePad={14}
        yTitlePad={1}
      />
      <Panel
        left={400}
        top={0}
        width={397}
        height={390}
        area={{ left: 57, right: 395, top: 2, bottom: 332 }}
        xRange={[-0.03825, 1.0392]}
        yRange={[-0.0112, 1.1086]}
        yTicks={yTicksPolar}
        marks={marksB}
        spots={clusterSpotsPolar}
        xTitle="θ"
        yTitle="ρ"
        titleFont={serifFont}
        titleSize={19}
        xTitlePad={6}
        yTitlePad={8}
      />
      <Panel
        left={0}
        top={395}
        width={397}
        height={388}
        area={{ left: 46, right: 385, top: 14, bottom: 344 }}
        xRange={[-0.0405, 1.0405]}
        yRange={[-0.0102, 1.1074]}
        yTicks={yTicksPolar}
        marks={marksC}
        crosses={crossesC}
        spots={clusterSpotsPolar}
        bold
        xTitle="θ"
        yTitle="ρ"
        titleFont={serifFont}
        titleSize={19}
        xTitlePad={0}
        yTitlePad={0}
      />
      <Panel
        left={400}
        top={395}
        width={397}
        height={388}
        area={{ left: 57, right: 395, top: 14, bottom: 344 }}
        xRange={[-0.03825, 1.0392]}
        yRange={[-0.0102, 1.1074]}
        yTicks={yTicksPolar}
        marks={marksD}
        crosses={crossesD}
        spots={clusterSpotsPolar}
        bold
        xTitle="θ"
        yTitle="ρ"
        titleFont={serifFont}
        titleSize={19}
        xTitlePad={0}
        yTitlePad={6}
      />
      <StrainLegend />
      <PanelLetter text="A" left={1} top={2} />
      <PanelLetter text="B" left={405} top={1} />
      <PanelLetter text="C" left={1} top={399} />
      <PanelLetter text="D" left={405} top={399} />
    </div>
  );
}
